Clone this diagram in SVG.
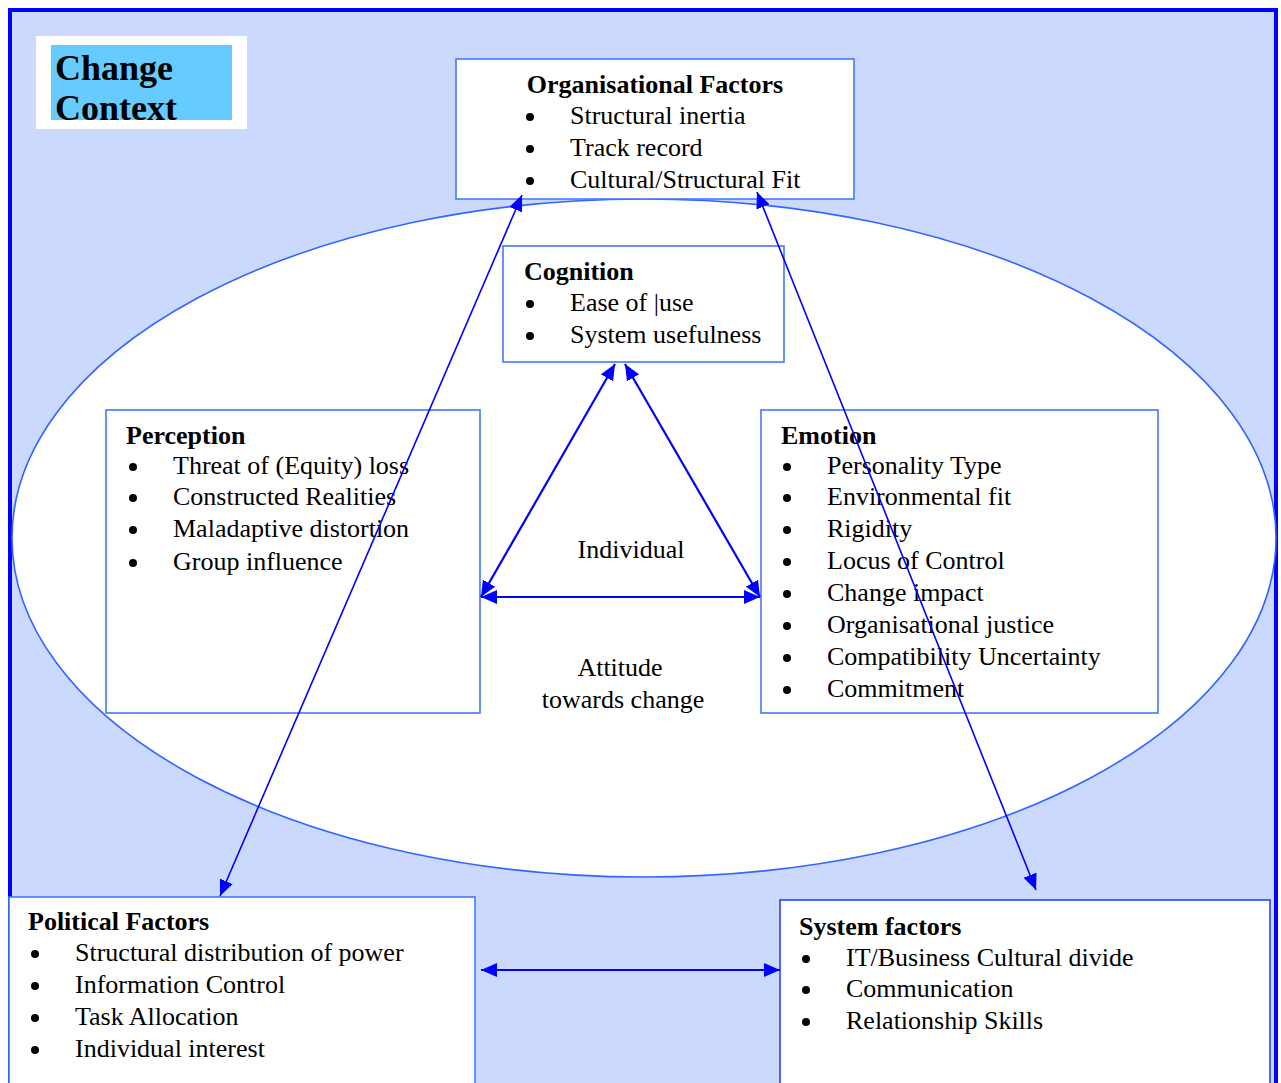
<svg xmlns="http://www.w3.org/2000/svg" width="1281" height="1083" viewBox="0 0 1281 1083">
  <style>
    .box { fill: #ffffff; stroke: #4477ff; stroke-width: 1.6; }
    .title { font-family: "Liberation Serif", "Times New Roman", serif; font-size: 26px; font-weight: bold; fill: #000; }
    .txt { font-family: "Liberation Serif", "Times New Roman", serif; font-size: 26px; fill: #000; }
    .bul { fill: #000; }
    .conn { stroke: #0000ff; stroke-width: 1.6; fill: none; marker-start: url(#head); marker-end: url(#head); }
    .conn2 { stroke: #0000ff; stroke-width: 2.2; fill: none; marker-start: url(#head); marker-end: url(#head); }
  </style>
  <defs>
    <marker id="head" viewBox="0 0 16 14" refX="16" refY="7" markerWidth="16" markerHeight="14" markerUnits="userSpaceOnUse" orient="auto-start-reverse">
      <path d="M0,0 L16,7 L0,14 Z" fill="#0000ff"/>
    </marker>
    <clipPath id="ctxClip"><rect x="51" y="45" width="181" height="75"/></clipPath>
  </defs>

  <!-- background frame -->
  <rect x="10" y="10" width="1266" height="1090" fill="#ccd9ff" stroke="#0000ff" stroke-width="4"/>

  <!-- change context label -->
  <g id="change-context">
    <rect x="36" y="36" width="211" height="93" fill="#ffffff"/>
    <rect x="51" y="45" width="181" height="75" fill="#66ccff"/>
    <g clip-path="url(#ctxClip)">
      <text x="55" y="80" font-family="Liberation Serif, serif" font-size="36" font-weight="bold">Change</text>
      <text x="55" y="120" font-family="Liberation Serif, serif" font-size="36" font-weight="bold">Context</text>
    </g>
  </g>

  <!-- individual ellipse -->
  <g id="individual">
    <ellipse cx="644" cy="538" rx="632" ry="339" fill="#ffffff" stroke="#3366ff" stroke-width="1.6"/>
    <text class="txt" x="631" y="558" text-anchor="middle">Individual</text>
    <text class="txt" x="620" y="676" text-anchor="middle">Attitude</text>
    <text class="txt" x="623" y="708" text-anchor="middle">towards change</text>
  </g>

  <g id="organisational-factors">
    <rect class="box" x="456" y="59" width="398" height="140"/>
    <text class="title" x="655" y="93" text-anchor="middle">Organisational Factors</text>
    <circle class="bul" cx="530" cy="117" r="4"/>
    <text class="txt" x="570" y="124">Structural inertia</text>
    <circle class="bul" cx="530" cy="149" r="4"/>
    <text class="txt" x="570" y="156">Track record</text>
    <circle class="bul" cx="530" cy="181" r="4"/>
    <text class="txt" x="570" y="188">Cultural/Structural Fit</text>
  </g>

  <g id="cognition">
    <rect class="box" x="503" y="246" width="281" height="116"/>
    <text class="title" x="524" y="280">Cognition</text>
    <circle class="bul" cx="530" cy="304" r="4"/>
    <text class="txt" x="570" y="311">Ease of |use</text>
    <circle class="bul" cx="530" cy="336" r="4"/>
    <text class="txt" x="570" y="343">System usefulness</text>
  </g>

  <g id="perception">
    <rect class="box" x="106" y="410" width="374" height="303"/>
    <text class="title" x="126" y="444">Perception</text>
    <circle class="bul" cx="133" cy="467" r="4"/>
    <text class="txt" x="173" y="474">Threat of (Equity) loss</text>
    <circle class="bul" cx="133" cy="498" r="4"/>
    <text class="txt" x="173" y="505">Constructed Realities</text>
    <circle class="bul" cx="133" cy="530" r="4"/>
    <text class="txt" x="173" y="537">Maladaptive distortion</text>
    <circle class="bul" cx="133" cy="563" r="4"/>
    <text class="txt" x="173" y="570">Group influence</text>
  </g>

  <g id="emotion">
    <rect class="box" x="761" y="410" width="397" height="303"/>
    <text class="title" x="781" y="444">Emotion</text>
    <circle class="bul" cx="787" cy="467" r="4"/>
    <text class="txt" x="827" y="474">Personality Type</text>
    <circle class="bul" cx="787" cy="498" r="4"/>
    <text class="txt" x="827" y="505">Environmental fit</text>
    <circle class="bul" cx="787" cy="530" r="4"/>
    <text class="txt" x="827" y="537">Rigidity</text>
    <circle class="bul" cx="787" cy="562" r="4"/>
    <text class="txt" x="827" y="569">Locus of Control</text>
    <circle class="bul" cx="787" cy="594" r="4"/>
    <text class="txt" x="827" y="601">Change impact</text>
    <circle class="bul" cx="787" cy="626" r="4"/>
    <text class="txt" x="827" y="633">Organisational justice</text>
    <circle class="bul" cx="787" cy="658" r="4"/>
    <text class="txt" x="827" y="665">Compatibility Uncertainty</text>
    <circle class="bul" cx="787" cy="690" r="4"/>
    <text class="txt" x="827" y="697">Commitment</text>
  </g>

  <g id="political-factors">
    <rect class="box" x="9" y="897" width="466" height="200"/>
    <text class="title" x="28" y="930">Political Factors</text>
    <circle class="bul" cx="35" cy="954" r="4"/>
    <text class="txt" x="75" y="961">Structural distribution of power</text>
    <circle class="bul" cx="35" cy="986" r="4"/>
    <text class="txt" x="75" y="993">Information Control</text>
    <circle class="bul" cx="35" cy="1018" r="4"/>
    <text class="txt" x="75" y="1025">Task Allocation</text>
    <circle class="bul" cx="35" cy="1050" r="4"/>
    <text class="txt" x="75" y="1057">Individual interest</text>
  </g>

  <g id="system-factors">
    <rect class="box" x="780" y="900" width="490" height="200" style="stroke:#2244ff"/>
    <text class="title" x="799" y="935">System factors</text>
    <circle class="bul" cx="806" cy="959" r="4"/>
    <text class="txt" x="846" y="966">IT/Business Cultural divide</text>
    <circle class="bul" cx="806" cy="990" r="4"/>
    <text class="txt" x="846" y="997">Communication</text>
    <circle class="bul" cx="806" cy="1022" r="4"/>
    <text class="txt" x="846" y="1029">Relationship Skills</text>
  </g>

  <!-- connectors -->
  <g id="connectors">
    <line class="conn2" x1="615" y1="364" x2="481" y2="597"/>
    <line class="conn2" x1="625" y1="364" x2="760" y2="597"/>
    <line class="conn2" x1="481" y1="597" x2="760" y2="597"/>
    <line class="conn" x1="522" y1="195" x2="220" y2="896"/>
    <line class="conn" x1="757" y1="192" x2="1036" y2="890"/>
    <line class="conn2" x1="481" y1="970" x2="780" y2="970"/>
  </g>
</svg>
